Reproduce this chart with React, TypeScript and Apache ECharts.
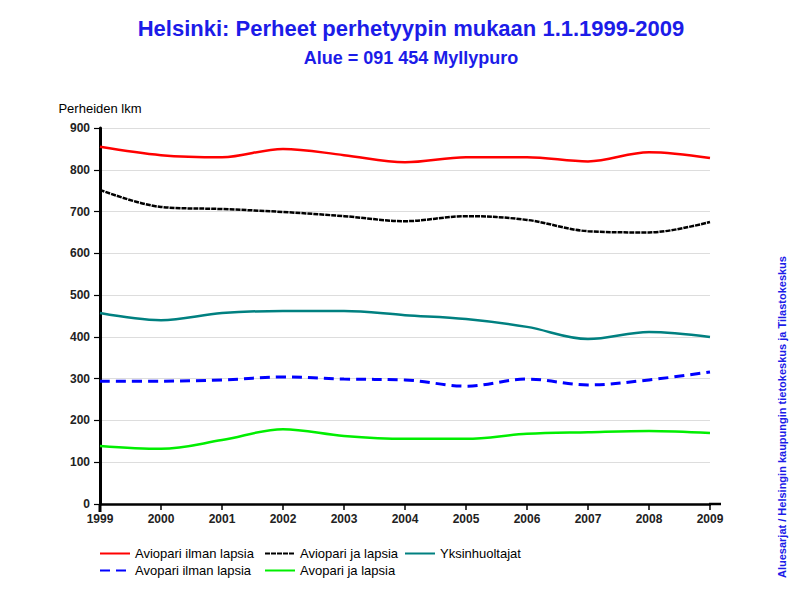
import React, { useEffect, useRef } from "react";
import * as echarts from "echarts";

const years = ["1999", "2000", "2001", "2002", "2003", "2004", "2005", "2006", "2007", "2008", "2009"];
const aviopariIlman = [855, 835, 830, 850, 835, 818, 830, 830, 820, 842, 828];
const aviopariJa = [752, 711, 706, 699, 689, 677, 689, 680, 653, 650, 675];
const yksinhuoltajat = [457, 440, 457, 462, 462, 452, 443, 424, 395, 412, 400];
const avopariIlman = [294, 294, 297, 304, 299, 297, 282, 299, 285, 297, 316];
const avopariJa = [139, 132, 153, 179, 163, 156, 156, 168, 172, 175, 170];

const names = [
  "Aviopari ilman lapsia",
  "Aviopari ja lapsia",
  "Yksinhuoltajat",
  "Avopari ilman lapsia",
  "Avopari ja lapsia",
];

export default function App() {
  const ref = useRef<HTMLDivElement>(null);
  useEffect(() => {
    if (!ref.current) return;
    const chart = echarts.init(ref.current, undefined, { renderer: "svg" });
    const font = "Liberation Sans, Arial, sans-serif";
    const mkSeries = (name: string, data: number[], color: string, width: number, type: any) => ({
      name,
      type: "line",
      data,
      smooth: 0.35,
      symbol: "none",
      lineStyle: { color, width, type },
      itemStyle: { color },
    });
    const legendPos = [
      { left: 99, top: 547 },
      { left: 264, top: 547 },
      { left: 404, top: 547 },
      { left: 99, top: 564 },
      { left: 264, top: 564 },
    ];
    chart.setOption({
      animation: false,
      backgroundColor: "#fff",
      title: [
        {
          text: "Helsinki: Perheet perhetyypin mukaan 1.1.1999-2009",
          left: 406,
          textAlign: "center",
          top: 12,
          textStyle: { fontFamily: font, fontSize: 22, fontWeight: "bold", color: "#1c1ce8" },
        },
        {
          text: "Alue = 091 454 Myllypuro",
          left: 406,
          textAlign: "center",
          top: 44,
          textStyle: { fontFamily: font, fontSize: 18, fontWeight: "bold", color: "#1c1ce8" },
        },
      ],
      legend: legendPos.map((p, i) => ({
        data: [names[i]],
        left: p.left,
        top: p.top,
        itemWidth: 30,
        itemHeight: 14,
        itemGap: 0,
        padding: 0,
        itemStyle: { opacity: 0 },
        textStyle: { fontFamily: font, fontSize: 13, color: "#000", padding: [0, 0, 0, 0] },
      })),
      grid: { left: 100, top: 128, right: 79, bottom: 85 },
      xAxis: {
        type: "category",
        data: years,
        boundaryGap: false,
        axisLine: { lineStyle: { color: "#000", width: 2.5 } },
        axisTick: { length: 6, lineStyle: { color: "#000", width: 1.5 } },
        axisLabel: { fontFamily: font, fontSize: 12, fontWeight: "bold", color: "#222", margin: 9 },
        splitLine: { show: false },
      },
      yAxis: {
        type: "value",
        min: 0,
        max: 900,
        interval: 100,
        name: "Perheiden lkm",
        nameLocation: "end",
        nameGap: 20,
        nameTextStyle: { fontFamily: font, fontSize: 13, color: "#000", align: "center", verticalAlign: "middle" },
        axisLine: { show: true, lineStyle: { color: "#000", width: 3 } },
        axisTick: { show: true, length: 6, lineStyle: { color: "#000", width: 1.2 } },
        axisLabel: { fontFamily: font, fontSize: 12, fontWeight: "bold", color: "#222", margin: 10 },
        splitLine: { lineStyle: { color: "#dddddd", width: 1.2 } },
      },
      series: [
        mkSeries(names[0], aviopariIlman, "#ff0000", 2.5, "solid"),
        mkSeries(names[1], aviopariJa, "#000000", 2.5, [5, 1]),
        mkSeries(names[2], yksinhuoltajat, "#008080", 2.5, "solid"),
        mkSeries(names[3], avopariIlman, "#0000ff", 3, [10, 6]),
        mkSeries(names[4], avopariJa, "#00ee00", 2.5, "solid"),
      ],
      graphic: [
        { type: "line", shape: { x1: 709, y1: 504, x2: 721, y2: 504 }, style: { stroke: "#000", lineWidth: 2.5 } },
        { type: "line", shape: { x1: 100, y1: 504, x2: 100, y2: 512 }, style: { stroke: "#000", lineWidth: 3 } },
        {
          type: "text",
          x: 782,
          y: 578,
          rotation: Math.PI / 2,
          style: {
            text: "Aluesarjat / Helsingin kaupungin tietokeskus ja Tilastokeskus",
            fontFamily: font,
            fontSize: 11,
            fontWeight: "bold",
            fill: "#1c1ce8",
            align: "left",
            verticalAlign: "middle",
          },
        },
      ],
    });
    return () => chart.dispose();
  }, []);
  return <div ref={ref} style={{ width: 789, height: 589, position: "absolute", left: 0, top: 0 }} />;
}
